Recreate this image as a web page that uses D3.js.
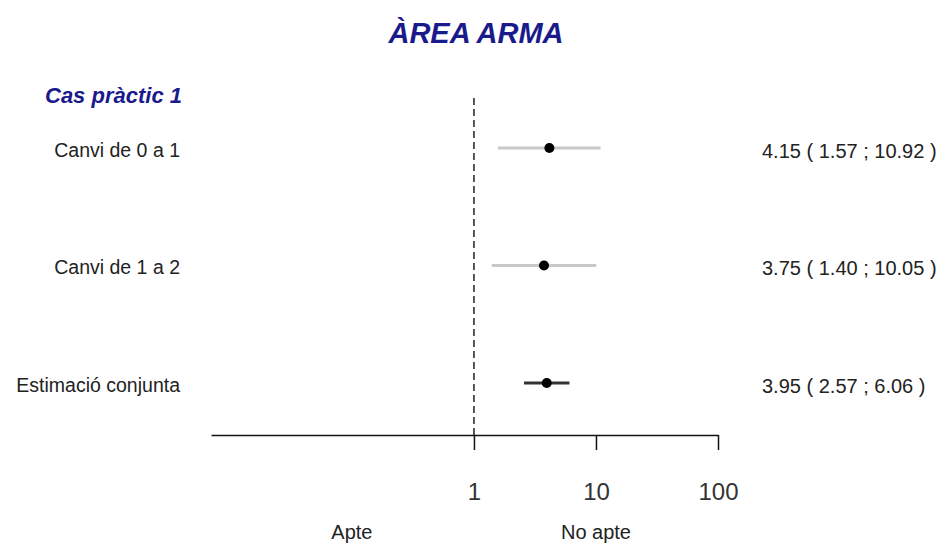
<!DOCTYPE html>
<html>
<head>
<meta charset="utf-8">
<script src="https://cdn.jsdelivr.net/npm/d3@7"></script>
<style>
  html, body { margin: 0; padding: 0; background: #fff; }
  svg { display: block; }
</style>
</head>
<body>
<svg id="chart" width="944" height="545"></svg>
<script>
// ---- data ----
const titleText = "ÀREA ARMA";
const subtitleText = "Cas pràctic 1";
const categories = ["Canvi de 0 a 1", "Canvi de 1 a 2", "Estimació conjunta"];
const estimates = [4.15, 3.75, 3.95];
const lowerCI = [1.57, 1.40, 2.57];
const upperCI = [10.92, 10.05, 6.06];
const pooled = [false, false, true];
const tickValues = [1, 10, 100];
const sideLabels = ["Apte", "No apte"];
const sideLabelAt = [0.1, 10];
const axisMin = 0.007;
const axisMax = 100;

// ---- layout ----
const svg = d3.select("#chart");
const font = "'Liberation Sans', Arial, sans-serif";
const navy = "#1a1a8c";

const x = d3.scaleLog().domain([axisMin, axisMax]).range([211, 718]);
const y = d3.scalePoint().domain(categories).range([148, 383]);
const axisY = 435;
const f2 = d3.format(".2f");

// title
svg.append("text")
  .attr("x", 476).attr("y", 43)
  .attr("text-anchor", "middle")
  .attr("font-family", font).attr("font-size", 29)
  .attr("font-weight", "bold").attr("font-style", "italic")
  .attr("fill", navy)
  .text(titleText);

svg.append("text")
  .attr("x", 45).attr("y", 103)
  .attr("font-family", font).attr("font-size", 22)
  .attr("font-weight", "bold").attr("font-style", "italic")
  .attr("fill", navy)
  .text(subtitleText);

// reference line at 1
svg.append("line")
  .attr("x1", x(1)).attr("x2", x(1))
  .attr("y1", 98).attr("y2", axisY)
  .attr("stroke", "#222").attr("stroke-width", 1.5)
  .attr("stroke-dasharray", "7,4");

// axis
const axis = d3.axisBottom(x)
  .tickValues(tickValues)
  .tickFormat(d3.format("d"))
  .tickSize(15)
  .tickSizeOuter(0);

const gAxis = svg.append("g")
  .attr("transform", `translate(0,${axisY})`)
  .call(axis);
gAxis.select(".domain").attr("stroke", "#111").attr("stroke-width", 1.5);
gAxis.selectAll(".tick line").attr("stroke", "#111").attr("stroke-width", 1.5);
gAxis.selectAll(".tick text")
  .attr("y", 65).attr("dy", 0)
  .attr("font-family", font)
  .attr("font-size", 24)
  .attr("fill", "#333");

// side labels
svg.selectAll("text.side")
  .data(sideLabels)
  .join("text")
  .attr("class", "side")
  .attr("x", (d, i) => x(sideLabelAt[i]))
  .attr("y", 539)
  .attr("text-anchor", "middle")
  .attr("font-family", font).attr("font-size", 20)
  .attr("fill", "#222")
  .text(d => d);

// rows
const rows = categories.map((c, i) => ({
  c, e: estimates[i], l: lowerCI[i], u: upperCI[i], p: pooled[i]
}));

svg.selectAll("line.ci")
  .data(rows)
  .join("line")
  .attr("class", "ci")
  .attr("x1", d => x(d.l)).attr("x2", d => x(d.u))
  .attr("y1", d => y(d.c)).attr("y2", d => y(d.c))
  .attr("stroke", d => d.p ? "#333" : "#c8c8c8")
  .attr("stroke-width", 3);

svg.selectAll("circle.pt")
  .data(rows)
  .join("circle")
  .attr("class", "pt")
  .attr("cx", d => x(d.e)).attr("cy", d => y(d.c))
  .attr("r", 5)
  .attr("fill", "#000");

svg.selectAll("text.cat")
  .data(rows)
  .join("text")
  .attr("class", "cat")
  .attr("x", 180).attr("y", d => y(d.c) + 8.5)
  .attr("text-anchor", "end")
  .attr("font-family", font).attr("font-size", 19.5)
  .attr("fill", "#222")
  .text(d => d.c);

svg.selectAll("text.ci-lab")
  .data(rows)
  .join("text")
  .attr("class", "ci-lab")
  .attr("x", 762).attr("y", d => y(d.c) + 9.5)
  .attr("font-family", font).attr("font-size", 20)
  .attr("fill", "#222")
  .text(d => `${f2(d.e)} ( ${f2(d.l)} ; ${f2(d.u)} )`);
</script>
</body>
</html>
